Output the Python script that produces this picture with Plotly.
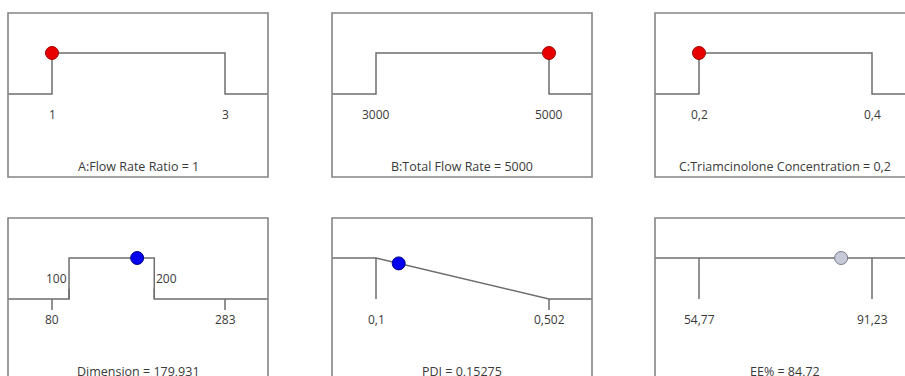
import plotly.graph_objects as go

W, H = 905, 376

# ---- factors (input variables) ----
factor_names = ["A:Flow Rate Ratio", "B:Total Flow Rate", "C:Triamcinolone Concentration"]
factor_low = [1, 3000, 0.2]
factor_high = [3, 5000, 0.4]
factor_value = [1, 5000, 0.2]
factor_low_lbl = ["1", "3000", "0,2"]
factor_high_lbl = ["3", "5000", "0,4"]
factor_value_lbl = ["1", "5000", "0,2"]

# ---- responses ----
response_names = ["Dimension", "PDI", "EE%"]
response_min = [80, 0.1, 54.77]
response_max = [283, 0.502, 91.23]
response_min_lbl = ["80", "0,1", "54,77"]
response_max_lbl = ["283", "0,502", "91,23"]
response_value = [179.931, 0.15275, 84.72]
response_value_lbl = ["179,931", "0,15275", "84,72"]

# Dimension goal: in range
dim_goal_low, dim_goal_high = 100, 200
dim_goal_lbl = ["100", "200"]
# PDI goal: minimize between limits
pdi_goal_low, pdi_goal_high = 0.1, 0.502

# ---- panel geometry (pixels) ----
col_left = [8, 332, 655]
row_top = [13, 218]
box_w, box_h = 260, 164
tick_in_lo, tick_in_hi = 44, 217     # tick positions inside a box
y_one_px, px_per_unit = 40, 41        # desirability 1 sits 40 px below box top

LINE = "#6e6e6e"
BORDER = "#858585"
TEXT = "#3a3a3a"
TICK_FONT = dict(family="Open Sans", size=12, color=TEXT)
TITLE_FONT = dict(family="Open Sans", size=12.5, color=TEXT)

fig = go.Figure()
layout = {}
shapes = []
annotations = []


def make_panel(idx, row, col, lo, hi):
    left = col_left[col]
    right = min(left + box_w, W)
    vis_w = right - left
    top = row_top[row]
    bottom = min(top + box_h, H)
    vis_h = bottom - top
    k = (hi - lo) / (tick_in_hi - tick_in_lo)
    xr = [lo - tick_in_lo * k, lo + (vis_w - tick_in_lo) * k]
    yr = [1 - (vis_h - y_one_px) / px_per_unit, 1 + y_one_px / px_per_unit]
    sfx = "" if idx == 1 else str(idx)
    layout["xaxis" + sfx] = dict(domain=[left / W, right / W], range=xr, visible=False,
                                 anchor="y" + sfx, fixedrange=True)
    layout["yaxis" + sfx] = dict(domain=[(H - bottom) / H, (H - top) / H], range=yr,
                                 visible=False, anchor="x" + sfx, fixedrange=True)
    shapes.append(dict(type="rect", xref="x%s domain" % sfx, yref="y%s domain" % sfx,
                       x0=0, x1=box_w / vis_w, y0=1 - box_h / vis_h, y1=1,
                       line=dict(color=BORDER, width=1.6), fillcolor="rgba(0,0,0,0)"))
    return "x" + sfx, "y" + sfx, xr, vis_w


def add_line(xa, ya, xs, ys):
    fig.add_trace(go.Scatter(x=xs, y=ys, mode="lines", xaxis=xa, yaxis=ya,
                             line=dict(color=LINE, width=1.5), hoverinfo="skip",
                             showlegend=False, cliponaxis=True))


def add_marker(xa, ya, x, y, fill, edge):
    fig.add_trace(go.Scatter(x=[x], y=[y], mode="markers", xaxis=xa, yaxis=ya,
                             marker=dict(size=13, color=fill, line=dict(color=edge, width=1)),
                             showlegend=False, cliponaxis=False))


def add_text(xa, ya, x, y, text, anchor="center"):
    annotations.append(dict(xref=xa, yref=ya, x=x, y=y, text=text, showarrow=False,
                            xanchor=anchor, yanchor="middle", font=TICK_FONT))


def add_title(xa, ya, vw, text):
    annotations.append(dict(xref=xa + " domain", yref=ya, x=(box_w / 2) / vw, y=-1.77,
                            text=text, showarrow=False, xanchor="center",
                            yanchor="middle", font=TITLE_FONT))


LABEL_Y = -0.51
TICK_LEN = 0.27

# ---- factor panels ----
for i in range(3):
    lo, hi = factor_low[i], factor_high[i]
    xa, ya, xr, vw = make_panel(i + 1, 0, i, lo, hi)
    add_line(xa, ya, [xr[0], lo, lo, hi, hi, xr[1]], [0, 0, 1, 1, 0, 0])
    add_marker(xa, ya, factor_value[i], 1, "#e80000", "#a00000")
    add_text(xa, ya, lo, LABEL_Y, factor_low_lbl[i])
    add_text(xa, ya, hi, LABEL_Y, factor_high_lbl[i])
    add_title(xa, ya, vw, "%s = %s" % (factor_names[i], factor_value_lbl[i]))

# ---- Dimension (in range) ----
lo, hi = response_min[0], response_max[0]
xa, ya, xr, vw = make_panel(4, 1, 0, lo, hi)
add_line(xa, ya, [xr[0], dim_goal_low, dim_goal_low, dim_goal_high, dim_goal_high, xr[1]],
         [0, 0, 1, 1, 0, 0])
add_line(xa, ya, [lo, lo, None, hi, hi, None, dim_goal_low, dim_goal_low, None,
                  dim_goal_high, dim_goal_high],
         [0, -TICK_LEN, None, 0, -TICK_LEN, None, 0, 0.25, None, 0, 0.25])
add_marker(xa, ya, response_value[0], 1, "#0000ee", "#00008a")
add_text(xa, ya, lo, LABEL_Y, response_min_lbl[0])
add_text(xa, ya, hi, LABEL_Y, response_max_lbl[0])
add_text(xa, ya, dim_goal_low, 0.5, dim_goal_lbl[0], "right")
add_text(xa, ya, dim_goal_high, 0.5, dim_goal_lbl[1], "left")
add_title(xa, ya, vw, "%s = %s" % (response_names[0], response_value_lbl[0]))

# ---- PDI (minimize) ----
lo, hi = response_min[1], response_max[1]
xa, ya, xr, vw = make_panel(5, 1, 1, lo, hi)
add_line(xa, ya, [xr[0], pdi_goal_low, pdi_goal_high, xr[1]], [1, 1, 0, 0])
add_line(xa, ya, [lo, lo, None, hi, hi], [1, 0, None, 0, -TICK_LEN])
pdi_d = (pdi_goal_high - response_value[1]) / (pdi_goal_high - pdi_goal_low)
add_marker(xa, ya, response_value[1], pdi_d, "#0000ee", "#00008a")
add_text(xa, ya, lo, LABEL_Y, response_min_lbl[1])
add_text(xa, ya, hi, LABEL_Y, response_max_lbl[1])
add_title(xa, ya, vw, "%s = %s" % (response_names[1], response_value_lbl[1]))

# ---- EE% (no goal) ----
lo, hi = response_min[2], response_max[2]
xa, ya, xr, vw = make_panel(6, 1, 2, lo, hi)
add_line(xa, ya, [xr[0], xr[1]], [1, 1])
add_line(xa, ya, [lo, lo, None, hi, hi], [1, 0, None, 1, 0])
add_marker(xa, ya, response_value[2], 1, "#c6cad9", "#7a7a85")
add_text(xa, ya, lo, LABEL_Y, response_min_lbl[2])
add_text(xa, ya, hi, LABEL_Y, response_max_lbl[2])
add_title(xa, ya, vw, "%s = %s" % (response_names[2], response_value_lbl[2]))

fig.update_layout(
    width=W, height=H,
    margin=dict(l=0, r=0, t=0, b=0),
    paper_bgcolor="white", plot_bgcolor="white",
    shapes=shapes, annotations=annotations,
    **layout,
)

fig.write_html("out.html", config={"displayModeBar": False})
